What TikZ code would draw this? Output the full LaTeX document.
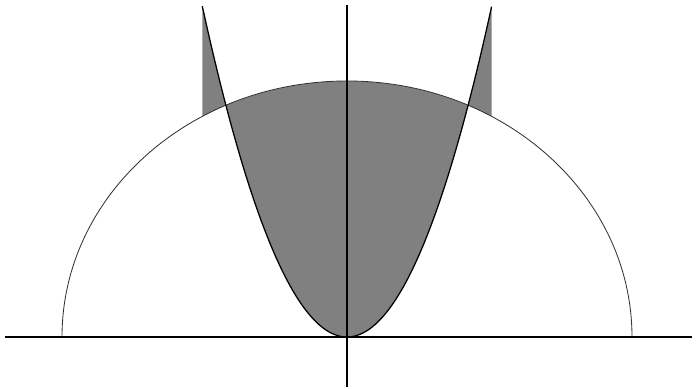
\documentclass[tikz,border=0pt]{standalone}
\usepackage{tikz}
\usetikzlibrary{calc}

\begin{document}
\begin{tikzpicture}[
    x=2.5cm, y=2.5cm,
    region/.style={fill=black!50},
    curve/.style={black, line width=0.9pt},
    halfcirc/.style={black!80, line width=0.6pt},
    axis/.style={black, line width=0.9pt},
]
\useasboundingbox (-3.47,-0.52) rectangle (3.49,3.37);

% shaded part inside parabola and half ellipse
\fill[region] plot[domain=-1.21108:1.21108, samples=80] (\x,{1.58*\x*\x})
    arc[start angle=64.85, end angle=115.15, x radius=2.85, y radius=2.56] -- cycle;

% small slivers outside the parabola, above the half ellipse
\fill[region] plot[domain=1.21108:1.447, samples=20] (\x,{1.58*\x*\x})
    -- (1.447,2.2055)
    arc[start angle=59.49, end angle=64.85, x radius=2.85, y radius=2.56] -- cycle;
\fill[region] plot[domain=-1.21108:-1.447, samples=20] (\x,{1.58*\x*\x})
    -- (-1.447,2.2055)
    arc[start angle=120.51, end angle=115.15, x radius=2.85, y radius=2.56] -- cycle;

% half ellipse
\draw[halfcirc] (2.85,0) arc[start angle=0, end angle=180, x radius=2.85, y radius=2.56];

% parabola
\draw[curve] plot[domain=-1.447:1.447, samples=100] (\x,{1.58*\x*\x});

% axes
\draw[axis] (-3.42,0) -- (3.45,0);
\draw[axis] (0,-0.50) -- (0,3.32);
\end{tikzpicture}
\end{document}
